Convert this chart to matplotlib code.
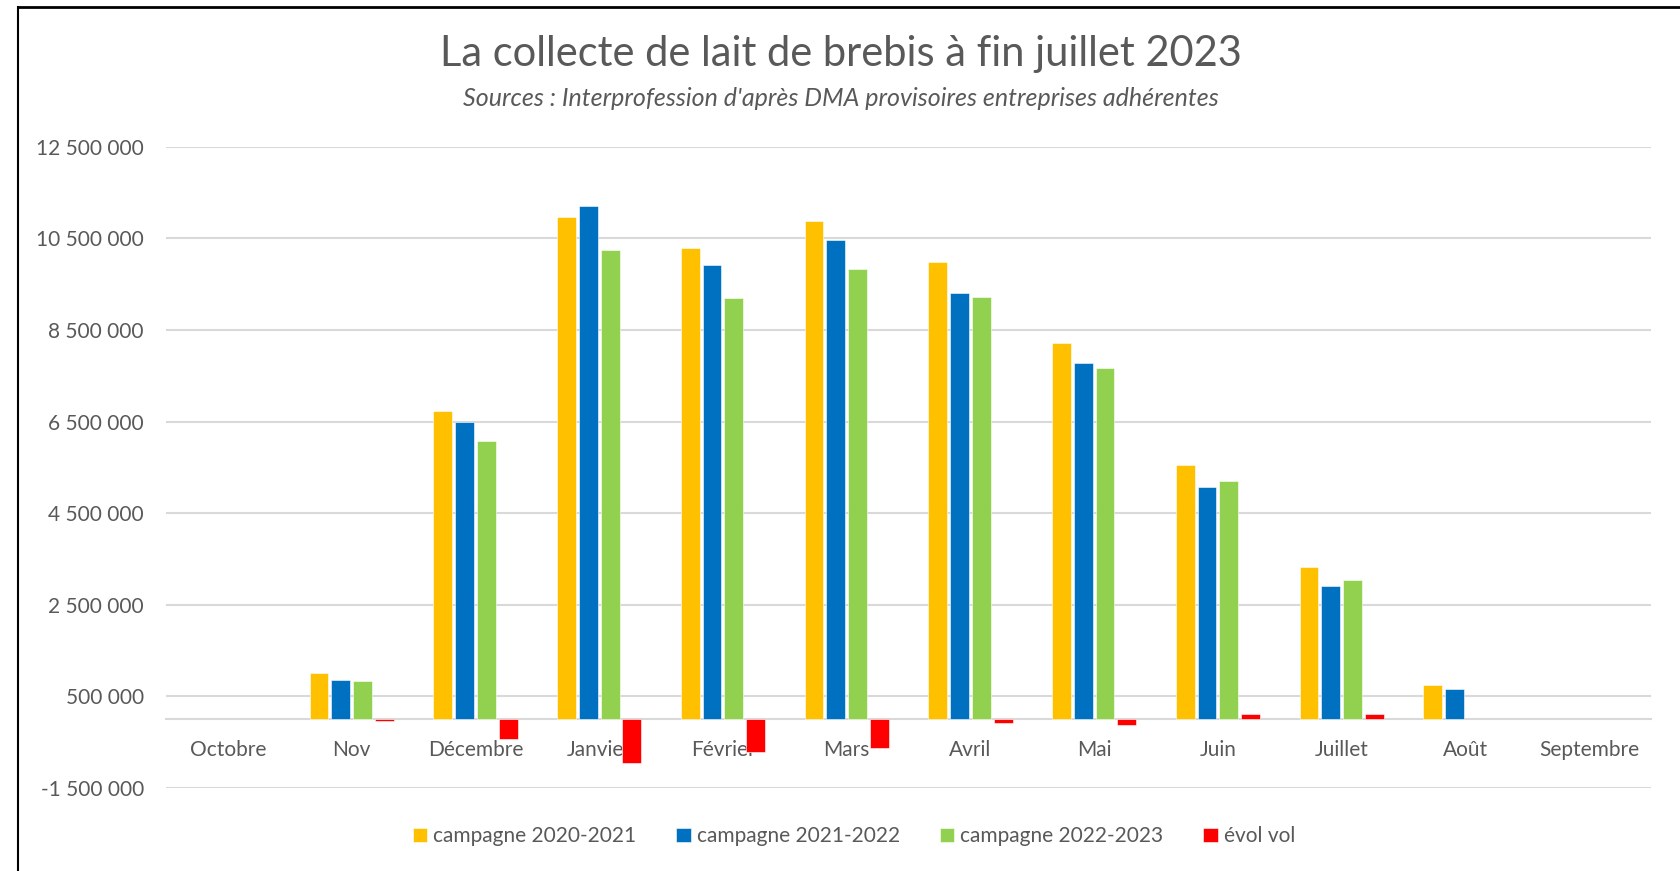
import matplotlib
matplotlib.use("Agg")
import matplotlib.pyplot as plt
import numpy as np
from matplotlib.ticker import FuncFormatter

plt.rcParams['font.family'] = ['Lato', 'DejaVu Sans']

months = ["Octobre", "Nov", "Décembre", "Janvier", "Février", "Mars", "Avril",
          "Mai", "Juin", "Juillet", "Août", "Septembre"]
c2020 = [np.nan, 1010000, 6740000, 10980000, 10300000, 10890000, 9980000,
         8210000, 5560000, 3330000, 740000, np.nan]
c2021 = [np.nan, 860000, 6490000, 11200000, 9910000, 10470000, 9300000,
         7770000, 5080000, 2900000, 650000, np.nan]
c2022 = [np.nan, 840000, 6070000, 10250000, 9210000, 9840000, 9220000,
         7660000, 5210000, 3030000, np.nan, np.nan]
evol = [np.nan, -40000, -430000, -970000, -720000, -630000, -90000,
        -120000, 110000, 100000, np.nan, np.nan]
series_names = ["campagne 2020-2021", "campagne 2021-2022",
                "campagne 2022-2023", "évol vol"]
colors = ["#FFC000", "#0070C0", "#92D050", "#FF0000"]
yticks = [-1500000, 500000, 2500000, 4500000, 6500000, 8500000, 10500000, 12500000]

fig = plt.figure(figsize=(16.81, 8.71), dpi=100)
ax = fig.add_axes([0.0988, 0.0956, 0.8834, 0.7357])

x = np.arange(len(months))
step = 0.176
width = 0.152
for i, (vals, name, col) in enumerate(zip([c2020, c2021, c2022, evol], series_names, colors)):
    ax.bar(x + (i - 1.5) * step, vals, width=width, color=col, label=name,
           edgecolor='white', linewidth=0.4, zorder=3)

ax.set_xlim(-0.5, len(months) - 0.5)
ax.set_ylim(-1500000, 12500000)
ax.set_yticks(yticks)
ax.yaxis.set_major_formatter(FuncFormatter(lambda v, p: f"{int(v):,}".replace(",", " ")))
ax.grid(axis='y', color='#d9d9d9', linewidth=1.5, zorder=0)
ax.set_axisbelow(True)
for s in ['top', 'right', 'left']:
    ax.spines[s].set_visible(False)
ax.spines['bottom'].set_position(('data', 0))
ax.spines['bottom'].set_color('#d9d9d9')
ax.spines['bottom'].set_linewidth(1.5)
ax.spines['bottom'].set_zorder(2)
ax.set_xticks(x)
ax.set_xticklabels(months)
ax.tick_params(axis='x', length=0, pad=15, labelsize=15, labelcolor='#595959')
ax.tick_params(axis='y', length=0, pad=16, labelsize=15, labelcolor='#595959')

fig.text(0.5, 0.938, "La collecte de lait de brebis à fin juillet 2023",
         ha='center', va='center', fontsize=30, color='#595959')
fig.text(0.5, 0.887, "Sources : Interprofession d'après DMA provisoires entreprises adhérentes",
         ha='center', va='center', fontsize=18, color='#595959', style='italic')

fig.legend(loc='center', bbox_to_anchor=(0.508, 0.040), ncol=4, frameon=False,
           fontsize=15, labelcolor='#595959', handlelength=0.7, handleheight=0.7,
           handletextpad=0.3, columnspacing=1.9)

# chart border (top and left)
fig.add_artist(plt.Line2D([0.0107, 1.0], [0.9925, 0.9925], transform=fig.transFigure,
                          color='black', linewidth=2))
fig.add_artist(plt.Line2D([0.0107, 0.0107], [0.0, 0.9925], transform=fig.transFigure,
                          color='black', linewidth=1.5))

fig.savefig("out.png", dpi=100)
